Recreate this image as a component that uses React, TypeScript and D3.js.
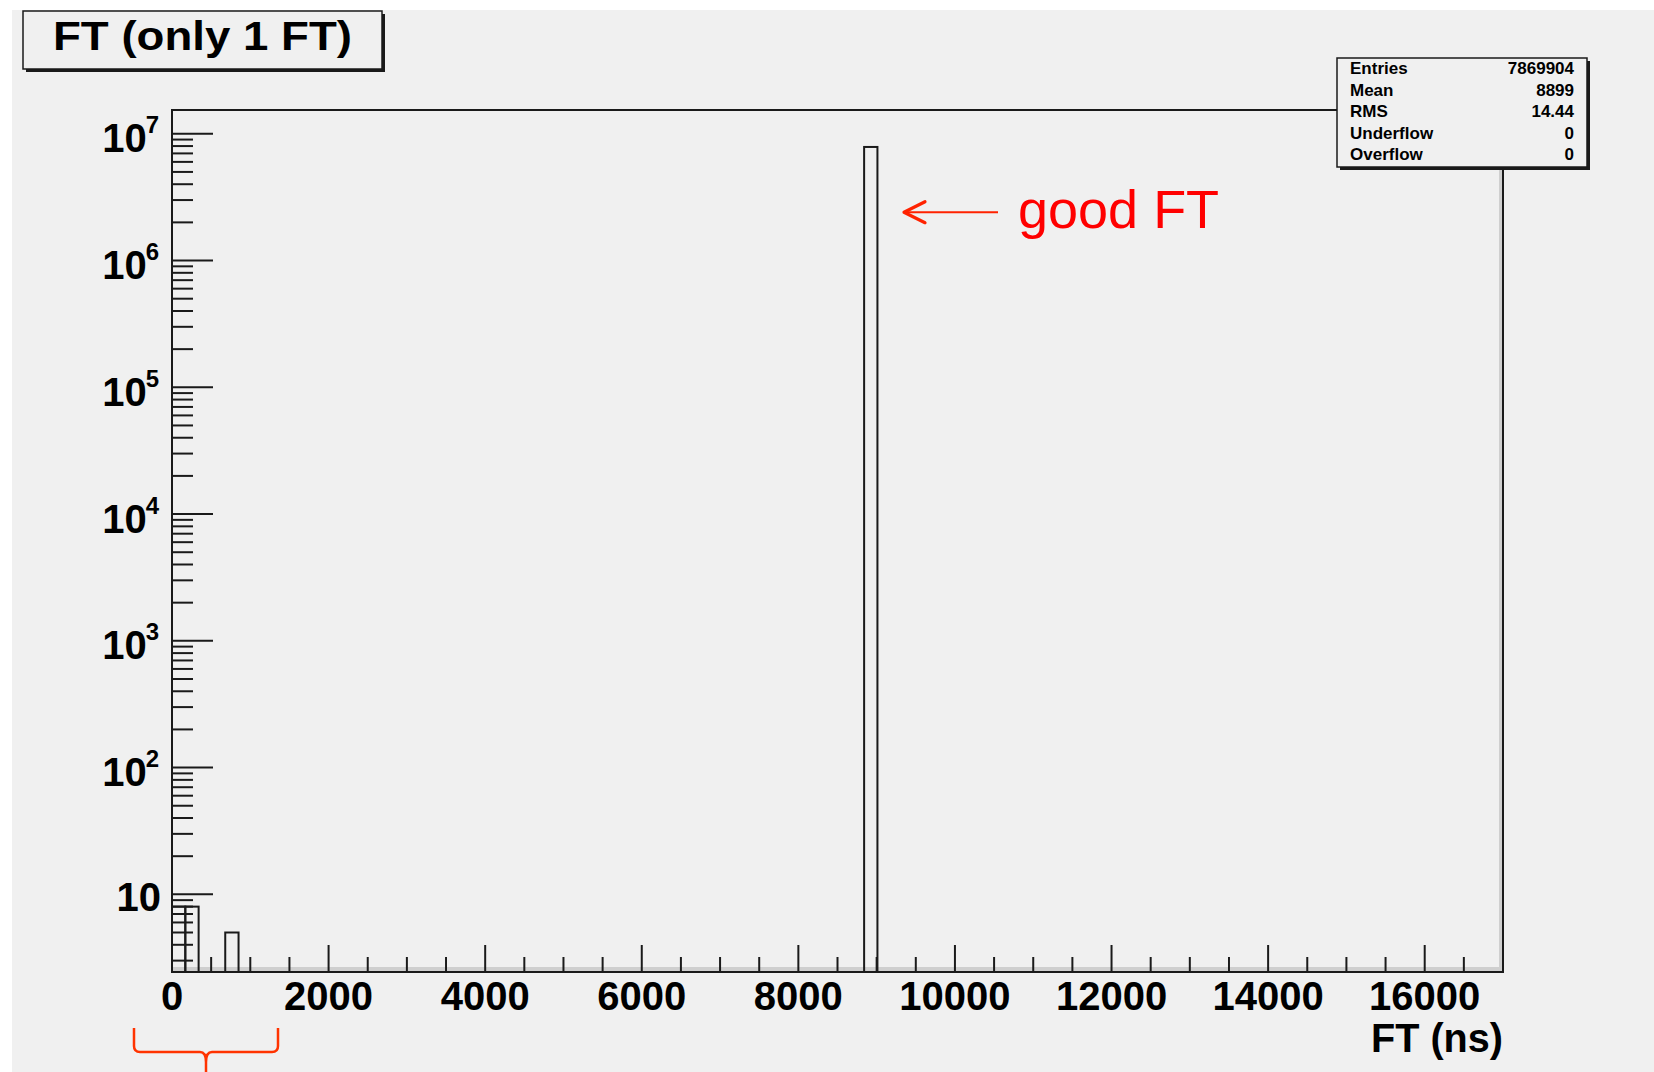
import React from "react";
import * as d3 from "d3";

// ---- data ----
const binWidth = 170; // ns, 100 bins over 0..17000
const binLow = [0, 170, 680, 8840];
const binCounts = [8, 8, 5, 7869883];
const xTickLabels = [0, 2000, 4000, 6000, 8000, 10000, 12000, 14000, 16000];
const yDecades = [1, 2, 3, 4, 5, 6, 7];
const statNames = ["Entries", "Mean", "RMS", "Underflow", "Overflow"];
const statValues = ["7869904", "8899", "14.44", "0", "0"];
const titleText = "FT (only 1 FT)";
const xTitle = "FT (ns)";
const annotationText = "good FT";

const W = 1654;
const H = 1072;
const frame = { left: 172, right: 1503, top: 110, bottom: 972 };
const xDomain: [number, number] = [0, 17000];
const yDomain: [number, number] = [2.44, 1.54e7];
const FONT = "'Liberation Sans', Arial, Helvetica, sans-serif";

export default function App() {
  const x = d3.scaleLinear().domain(xDomain).range([frame.left, frame.right]);
  const y = d3.scaleLog().domain(yDomain).range([frame.bottom, frame.top]);

  const xMinor = d3.range(0, 17000 + 1, 500);
  const yMinor: number[] = [];
  for (let k = 0; k <= 7; k++) {
    for (let m = 2; m <= 9; m++) {
      const v = m * Math.pow(10, k);
      if (v > yDomain[0] && v < yDomain[1]) yMinor.push(v);
    }
  }

  const stroke = "#1a1a1a";

  return (
    <svg
      width={W}
      height={H}
      style={{ position: "absolute", left: 0, top: 0, display: "block" }}
      fontFamily={FONT}
    >
      <rect x={0} y={0} width={W} height={H} fill="#ffffff" />
      <rect x={12} y={10} width={W - 12} height={H - 10} fill="#f0f0f0" />

      {/* frame shading */}
      <rect x={frame.left} y={frame.bottom - 5} width={frame.right - frame.left} height={5} fill="#cfcfcf" />
      <rect x={frame.right - 4} y={frame.top} width={4} height={frame.bottom - frame.top} fill="#cfcfcf" />

      {/* x ticks */}
      {xMinor.map((v) => {
        const major = v % 2000 === 0;
        return (
          <line
            key={"xt" + v}
            x1={x(v)}
            x2={x(v)}
            y1={frame.bottom}
            y2={frame.bottom - (major ? 27 : 15)}
            stroke={stroke}
            strokeWidth={2}
          />
        );
      })}

      {/* y ticks */}
      {yDecades.map((k) => (
        <line
          key={"yM" + k}
          x1={frame.left}
          x2={frame.left + 41}
          y1={y(Math.pow(10, k))}
          y2={y(Math.pow(10, k))}
          stroke={stroke}
          strokeWidth={2}
        />
      ))}
      {yMinor.map((v) => (
        <line
          key={"ym" + v}
          x1={frame.left}
          x2={frame.left + 21}
          y1={y(v)}
          y2={y(v)}
          stroke={stroke}
          strokeWidth={2}
        />
      ))}

      {/* histogram bins */}
      {binLow.map((lo, i) => (
        <rect
          key={"b" + i}
          x={x(lo)}
          y={y(binCounts[i])}
          width={x(lo + binWidth) - x(lo)}
          height={frame.bottom - y(binCounts[i])}
          fill="none"
          stroke={stroke}
          strokeWidth={2}
        />
      ))}

      {/* frame */}
      <rect
        x={frame.left}
        y={frame.top}
        width={frame.right - frame.left}
        height={frame.bottom - frame.top}
        fill="none"
        stroke={stroke}
        strokeWidth={2}
      />

      {/* x labels */}
      {xTickLabels.map((v) => (
        <text
          key={"xl" + v}
          x={x(v)}
          y={1010}
          textAnchor="middle"
          fontSize={40}
          fontWeight="bold"
          fill="#000"
        >
          {v}
        </text>
      ))}
      <text x={frame.right} y={1052} textAnchor="end" fontSize={41} fontWeight="bold" fill="#000"
        textLength={132} lengthAdjust="spacingAndGlyphs">
        {xTitle}
      </text>

      {/* y labels */}
      {yDecades.map((k) =>
        k === 1 ? (
          <text key={"yl" + k} x={161} y={y(10) + 17} textAnchor="end" fontSize={40} fontWeight="bold" fill="#000">
            10
          </text>
        ) : (
          <text
            key={"yl" + k}
            x={159}
            y={y(Math.pow(10, k)) + 18.5}
            textAnchor="end"
            fontSize={40}
            fontWeight="bold"
            fill="#000"
          >
            <tspan>10</tspan>
            <tspan dy={-19} dx={-1} fontSize={24}>
              {k}
            </tspan>
          </text>
        )
      )}

      {/* title box */}
      <rect x={26} y={14} width={359} height={58} fill="#1a1a1a" />
      <rect x={23} y={11} width={359} height={58} fill="#f0f0f0" stroke={stroke} strokeWidth={1.5} />
      <text
        x={53}
        y={50}
        fontSize={41}
        fontWeight="bold"
        fill="#000"
        textLength={299}
        lengthAdjust="spacingAndGlyphs"
      >
        {titleText}
      </text>

      {/* stats box */}
      <rect x={1340} y={61} width={250} height={109} fill="#1a1a1a" />
      <rect x={1337} y={58} width={250} height={109} fill="#f0f0f0" stroke={stroke} strokeWidth={1.5} />
      {statNames.map((n, i) => (
        <g key={"s" + i}>
          <text x={1350} y={74 + i * 21.5} fontSize={17} fontWeight="bold" fill="#000">
            {n}
          </text>
          <text x={1574} y={74 + i * 21.5} fontSize={17} fontWeight="bold" textAnchor="end" fill="#000">
            {statValues[i]}
          </text>
        </g>
      ))}

      {/* annotation arrow + text */}
      <line x1={998} y1={212.3} x2={905} y2={212.3} stroke="#ff2200" strokeWidth={2} />
      <path
        d="M925,201.7 L904,212.3 L925,222.7"
        fill="none"
        stroke="#ff2200"
        strokeWidth={3.2}
        strokeLinecap="round"
        strokeLinejoin="round"
      />
      <text x={1018} y={228} fontSize={54} fill="#ff0000">
        {annotationText}
      </text>

      {/* bracket */}
      <path
        d="M134,1028 L134,1046 Q134,1052 140,1052 L200,1052 Q206,1052 206,1062 L206,1074 M206,1062 Q206,1052 212,1052 L272,1052 Q278,1052 278,1046 L278,1028"
        fill="none"
        stroke="#ff3300"
        strokeWidth={2.5}
      />
    </svg>
  );
}
